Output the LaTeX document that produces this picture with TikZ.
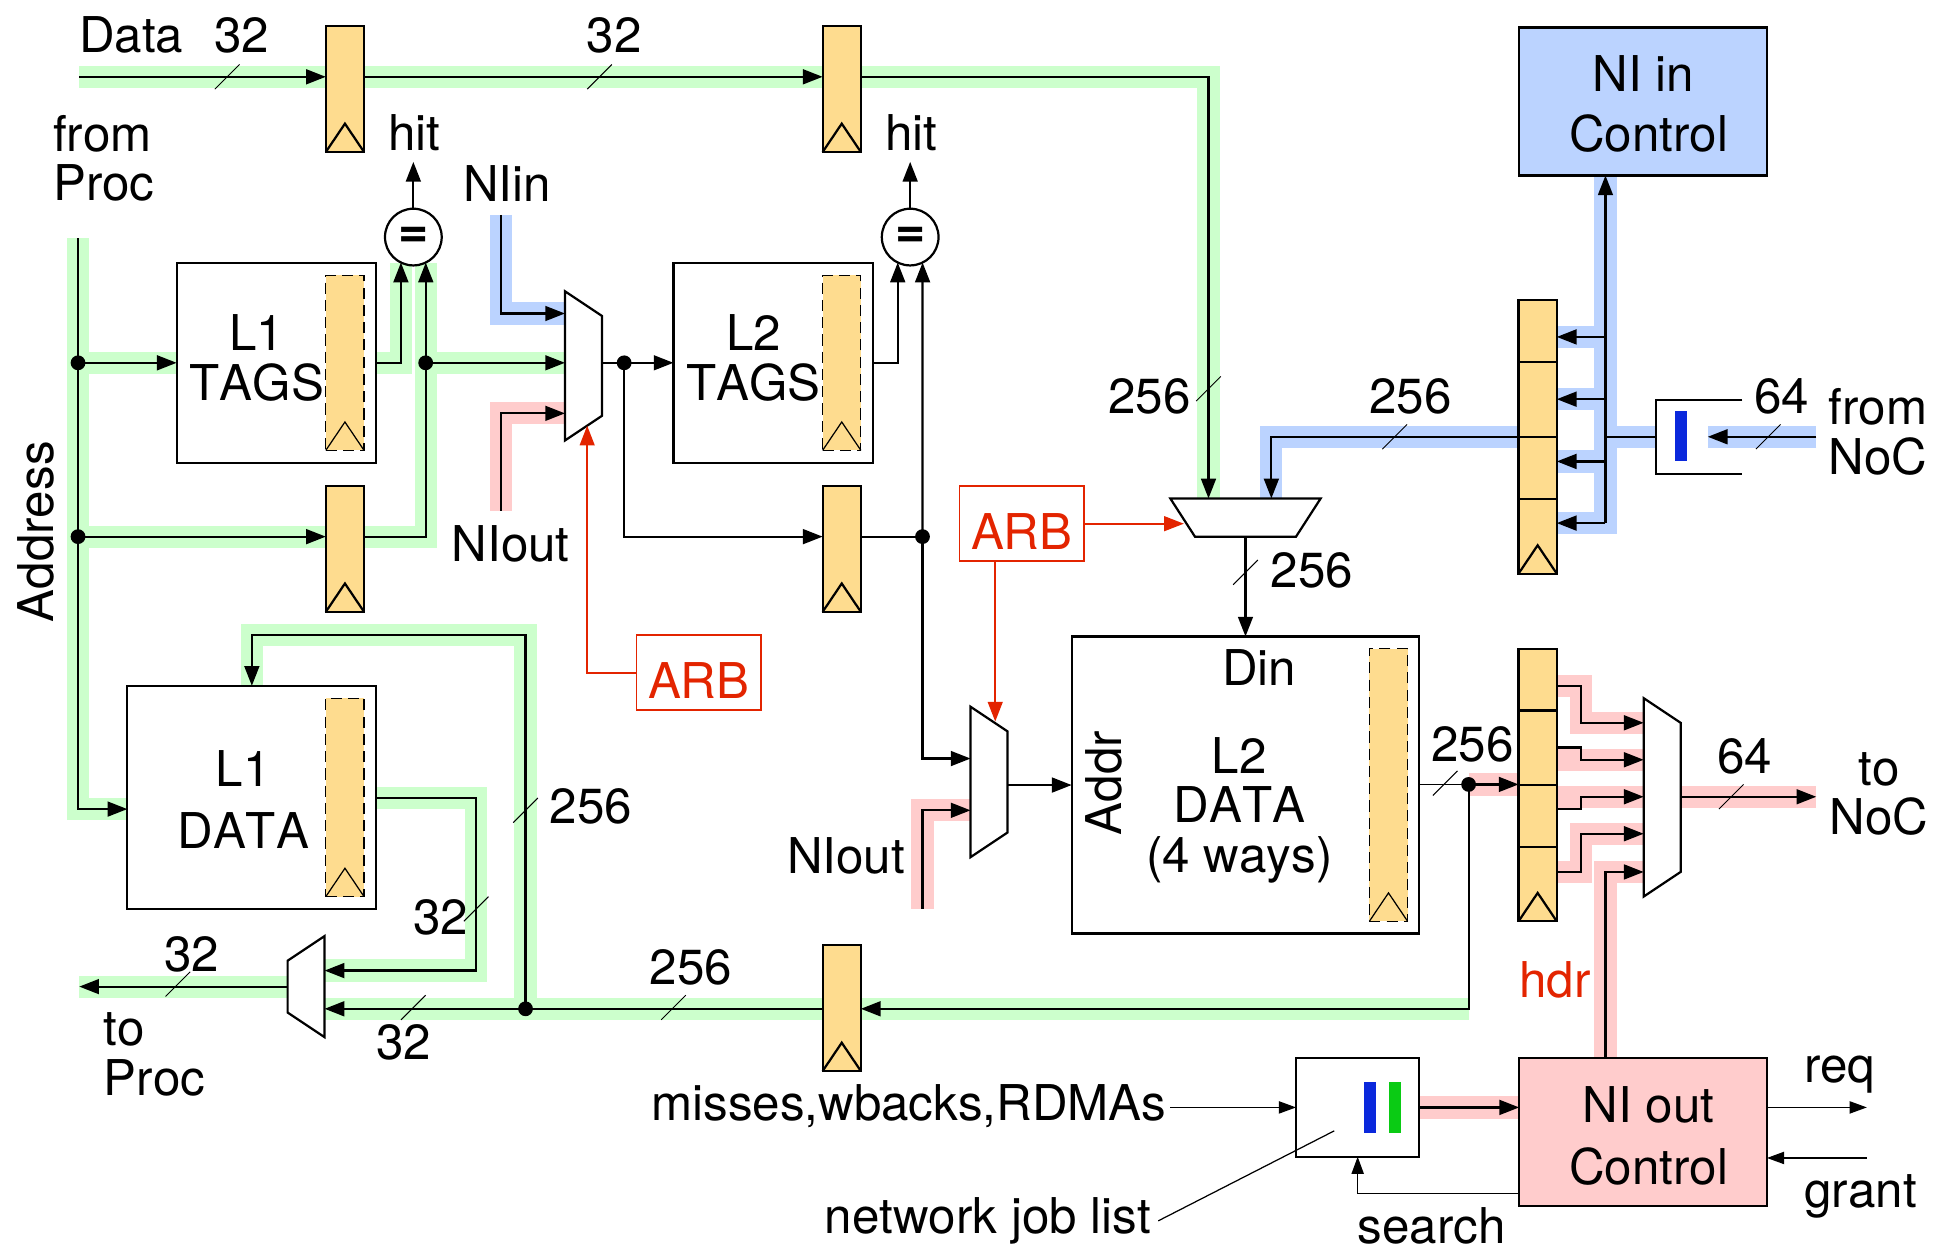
\documentclass[tikz,border=0pt]{standalone}
\usepackage{fontspec}
\setmainfont[Kerning=Off]{TeX Gyre Heros}
\usetikzlibrary{arrows.meta, backgrounds}
\definecolor{hlgreen}{HTML}{CCFFCC}
\definecolor{hlblue}{HTML}{BBD3FF}
\definecolor{hlpink}{HTML}{FFCCCC}
\definecolor{regfill}{HTML}{FEDC8F}
\definecolor{arbred}{HTML}{E32400}
\definecolor{barblue}{HTML}{0A28DC}
\definecolor{bargreen}{HTML}{0ACB14}
\tikzset{
  wire/.style={line width=1.8pt},
  thinwire/.style={line width=1pt,>={Stealth[inset=0pt,length=14pt,width=10pt]}},
  redwire/.style={line width=1.6pt,draw=arbred},
  tickline/.style={line width=.8pt},
  hlg/.style={line width=18pt,draw=hlgreen},
  hlb/.style={line width=18pt,draw=hlblue},
  hlp/.style={line width=18pt,draw=hlpink},
  ffreg/.style={draw,wire,fill=regfill,minimum width=31pt},
  ffdash/.style={draw,line width=1pt,dash pattern=on 9pt off 5pt,fill=regfill,minimum width=31pt},
  blk/.style={draw,wire},
  arbbox/.style={draw=arbred,line width=1.6pt,text=arbred,minimum width=101pt,minimum height=61pt},
  cmp/.style={draw,wire,circle,minimum size=46pt,fill=white,font=\fontsize{42}{42}\selectfont\bfseries},
  muxbox/.style={minimum width=30pt},
  lbl/.style={anchor=base}
}
\begin{document}
\begin{tikzpicture}[x=1pt,y=-1pt,>={Stealth[inset=0pt,length=16pt,width=12pt]},font=\fontsize{40}{40}\selectfont,every node/.append style={inner sep=0pt,outer sep=0pt}]
\useasboundingbox(-.3,-.3)rectangle(1567.7,1009.7);

\node[blk,minimum width=162pt,minimum height=162pt](ltags)at(224,294){};
\node[blk,minimum width=162pt,minimum height=162pt](ltwo)at(627,294){};
\node[blk,minimum width=202pt,minimum height=181pt](ldata)at(204,646.5){};
\node[blk,minimum width=282pt,minimum height=241pt](ldtwo)at(1010,636.5){};
\node[ffdash,minimum height=142pt](ltagsreg)at(279.5,294){};
\node[ffdash,minimum height=142pt](ltworeg)at(682.5,294){};
\node[ffdash,minimum height=161pt](ldatareg)at(279.5,646.5){};
\node[ffdash,minimum height=221pt](ldtworeg)at(1126,636.5){};
\node[ffreg,minimum height=102pt](dreg)at(279.5,72){};
\node[ffreg,minimum height=102pt](dregb)at(682.5,72){};
\node[ffreg,minimum height=102pt](areg)at(279.5,445){};
\node[ffreg,minimum height=102pt](aregb)at(682.5,445){};
\node[ffreg,minimum height=102pt](ldreg)at(682.5,817.5){};
\node[ffreg,minimum height=222pt](stackin)at(1247,354){};
\node[ffreg,minimum height=221pt](stackout)at(1247,636.5){};
\node[blk,fill=hlblue,minimum width=201pt,minimum height=120pt](niin)at(1332.5,82){};
\node[blk,fill=hlpink,minimum width=201pt,minimum height=120pt](niout)at(1332.5,918){};
\node[blk,minimum width=100pt,minimum height=80pt](jobs)at(1101,898){};
\node[fill=barblue,minimum width=10pt,minimum height=41pt](jobblue)at(1111,898){};
\node[fill=bargreen,minimum width=10pt,minimum height=41pt](jobgreen)at(1131,898){};
\node(fnbox)[minimum width=70pt,minimum height=60pt]at(1378,354){};
\node[fill=barblue,minimum width=10pt,minimum height=41pt](fnbar)at(1363,353.5){};
\node[cmp](cmpa)at(335,192){=};
\node[cmp](cmpb)at(738,192){=};
\node[arbbox](arba)at(566.5,545.5){\raisebox{-21pt}[0pt][0pt]{ARB}};
\node[arbbox](arbb)at(828.5,424.5){\raisebox{-21pt}[0pt][0pt]{ARB}};
\node[muxbox,minimum height=121pt](mone)at(473,296.5){};
\node[muxbox,minimum height=122pt](mtwo)at(802,634){};
\node[muxbox,minimum height=161pt](mthree)at(1348,646.5){};
\node[muxbox,minimum height=82pt](mproc)at(248,800){};
\node[minimum width=122pt,minimum height=31pt](mdin)at(1010,419.5){};

\foreach \r in {dreg,dregb,areg,aregb,ldreg,stackin,stackout}
\draw[wire](\r.south west)--([yshift=23pt]\r.south)--(\r.south east);
\foreach \r in {ltagsreg,ltworeg,ldatareg,ldtworeg}
\draw[thinwire](\r.south west)--([yshift=23pt]\r.south)--(\r.south east);
\foreach \y in {293.5,354,404.5}\draw[wire](stackin.west|-0,\y)--(stackin.east|-0,\y);
\foreach \y in {576,636.5,686.5}\draw[wire](stackout.west|-0,\y)--(stackout.east|-0,\y);
\foreach \m in {mone,mtwo,mthree}
\draw[wire](\m.north west)--([yshift=-20pt]\m.north east)--([yshift=20pt]\m.south east)--(\m.south west)--cycle;
\draw[wire](mproc.north east)--([yshift=-20pt]mproc.north west)--([yshift=20pt]mproc.south west)--(mproc.south east)--cycle;
\draw[wire](mdin.north west)--(mdin.north east)--([xshift=-20pt]mdin.south east)--([xshift=20pt]mdin.south west)--cycle;
\draw[wire](fnbox.north east)--(fnbox.north west)--(fnbox.south west)--(fnbox.south east);

\coordinate(din)at(64,62);
\coordinate(dinb)at(980,404);
\coordinate(adrtop)at(63,193);
\coordinate(adra)at(63,294);
\coordinate(adrb)at(63,435);
\coordinate(adrc)at(63,656);
\coordinate(cmpin)at(345,294);
\coordinate(nia)at(406,174);
\coordinate(nib)at(406,254);
\coordinate(noa)at(406,414);
\coordinate(nob)at(406,335);
\coordinate(tagout)at(506,294);
\coordinate(tagreg)at(506,435);
\coordinate(addrin)at(748,435);
\coordinate(addrb)at(748,615);
\coordinate(nooa)at(748,737);
\coordinate(noob)at(748,657);
\coordinate(nidin)at(1031,404);
\coordinate(busin)at(1302,424);
\coordinate(fnoc)at(1473,354);
\coordinate(fnocb)at(1385,354);
\coordinate(lout)at(1191,636);
\coordinate(rback)at(1191,818);
\coordinate(rsplit)at(426,818);
\coordinate(rtop)at(426,515);
\coordinate(ldin)at(204,515);
\coordinate(ldout)at(386,647);
\coordinate(ldoutb)at(386,787);
\coordinate(toproc)at(64,800);
\coordinate(tonoc)at(1473,646);
\coordinate(hdrb)at(1302,707);
\coordinate(hdra)at(1302,858);
\coordinate(arbtipa)at(476,345);
\coordinate(arbtipb)at(807,585);
\coordinate(arbtipc)at(960,424.5);
\coordinate(hita)at(335,131);
\coordinate(hitb)at(738,131);
\coordinate(srch)at(1232,968);
\coordinate(reqb)at(1514,898);
\coordinate(grantb)at(1514,939);
\coordinate(jobptr)at(1082,917);

\begin{scope}[on background layer]
\draw[hlg](din)-|(dinb);
\draw[hlg](adrtop)|-(adrc-|ldata.west);
\draw[hlg](adra)--(ltags.west);
\draw[hlg](adrb)--(adrb-|areg.west);
\draw[hlg](ltags.east)-|(cmpa.244);
\draw[hlg](areg.east|-adrb)-|(cmpa.296);
\draw[hlg](cmpin)--(cmpin-|mone.west);
\draw[hlg](rback)--(rback-|mproc.east);
\draw[hlg](rsplit)|-(ldin)--(ldata.north);
\draw[hlg](ldata.east|-ldout)-|(ldoutb)--(ldoutb-|mproc.east);
\draw[hlg](mproc.west)--(toproc);
\draw[hlb](nia)|-(nib-|mone.west);
\draw[hlb](stackin.west)-|(nidin);
\draw[hlb](busin)--(busin|-niin.south);
\foreach \y in {273,323.5,374,424}\draw[hlb](stackin.east|-0,\y)--(1311,\y);
\draw[hlb](1311,354)--(fnbox.west);
\draw[hlb](fnoc)--(fnocb);
\draw[hlp](noa)|-(nob-|mone.west);
\draw[hlp](nooa)|-(noob-|mtwo.west);
\draw[hlp](lout)--(lout-|stackout.west);
\draw[hlp](stackout.east|-0,556)--(1282,556)--(1282,586)--(mthree.west|-0,586);
\draw[hlp](stackout.east|-0,616)--(mthree.west|-0,616);
\draw[hlp](stackout.east|-0,646)--(mthree.west|-0,646);
\draw[hlp](stackout.east|-0,707)--(1282,707)--(1282,676)--(mthree.west|-0,676);
\draw[hlp](hdra)|-(hdrb-|mthree.west);
\draw[hlp](mthree.east|-tonoc)--(tonoc);
\draw[hlp](jobs.east)--(niout.west|-jobs.east);
\end{scope}

\draw[wire,->](din)--(din-|dreg.west);
\draw[wire,->](din-|dreg.east)--(din-|dregb.west);
\draw[wire,->](din-|dregb.east)-|(dinb);
\draw[wire,->](adrtop)|-(adrc-|ldata.west);
\draw[wire,->](adra)--(ltags.west);
\draw[wire,->](adrb)--(adrb-|areg.west);
\draw[wire,->](ltags.east)-|(cmpa.244);
\draw[wire,->](areg.east|-adrb)-|(cmpa.296);
\draw[wire,->](cmpin)--(cmpin-|mone.west);
\draw[wire,->](cmpa.north)--(hita);
\draw[wire,->](cmpb.north)--(hitb);
\draw[wire,->](nia)|-(nib-|mone.west);
\draw[wire,->](noa)|-(nob-|mone.west);
\draw[wire](mone.east|-tagout)--(tagout);
\draw[wire,->](tagout)--(ltwo.west);
\draw[wire,->](tagout)|-(tagreg-|aregb.west);
\draw[wire](aregb.east|-addrin)--(addrin);
\draw[wire,->](ltwo.east)-|(cmpb.244);
\draw[wire,->](addrin)--(cmpb.296);
\draw[wire,->](addrin)|-(addrb-|mtwo.west);
\draw[wire,->](nooa)|-(noob-|mtwo.west);
\draw[wire,->](mtwo.east|-ldtwo.west)--(ldtwo.west);
\draw[wire,->](mdin.south)--(ldtwo.north);
\draw[wire,->](stackin.west)-|(nidin);
\draw[wire,->](busin)--(busin|-niin.south);
\foreach \y in {273,323.5,374,424}\draw[wire,->](busin|-0,\y)--(stackin.east|-0,\y);
\draw[wire](fnbox.west)--(busin|-fnbox.west);
\draw[wire,->](fnoc)--(fnocb);
\draw[thinwire](ldtwo.east|-lout)--(lout);
\draw[wire,->](lout)--(lout-|stackout.west);
\draw[wire,->](lout)|-(rback-|ldreg.east);
\draw[wire,->](rback-|ldreg.west)--(rback-|mproc.east);
\draw[wire,->](rsplit)|-(ldin)--(ldata.north);
\draw[wire,->](ldata.east|-ldout)-|(ldoutb)--(ldoutb-|mproc.east);
\draw[wire,->](mproc.west)--(toproc);
\draw[wire,->](stackout.east|-0,556)--(1282,556)--(1282,586)--(mthree.west|-0,586);
\draw[wire,->](stackout.east|-0,606)--(1282,606)--(1282,616)--(mthree.west|-0,616);
\draw[wire,->](stackout.east|-0,656)--(1282,656)--(1282,646)--(mthree.west|-0,646);
\draw[wire,->](stackout.east|-0,707)--(1282,707)--(1282,676)--(mthree.west|-0,676);
\draw[wire,->](hdra)|-(hdrb-|mthree.west);
\draw[wire,->](mthree.east|-tonoc)--(tonoc);
\draw[wire,->](jobs.east)--(niout.west|-jobs.east);
\draw[thinwire,->](srch)-|(jobs.south);
\draw[thinwire,->](niout.east|-reqb)--(reqb);
\draw[thinwire,->](grantb)--(niout.east|-grantb);

\draw[redwire,arbred,->](arba.west)-|(arbtipa);
\draw[redwire,arbred,->](arbb.south-|arbtipb)--(arbtipb);
\draw[redwire,arbred,->](arbb.east)--(arbtipc);

\foreach \d in {adra,adrb,cmpin,tagout,addrin,rsplit,lout}\fill(\d)circle(6pt);
\foreach \a/\b in {184/62,486/62,980/315,1131/354,1010/464,426/657,386/737,335/817,546/817,144/798,1172/635,1404/646,1434/354}
\draw[tickline](\a-10,\b+10)--(\a+10,\b-10);

\node[lbl,anchor=base west](datatxt)at(64,42){Data};
\node[lbl](wa)at(196,42){32};
\node[lbl](wb)at(498,42){32};
\node[align=left](fromproc)at(84,128){from\\Proc};
\node[lbl](hittxta)at(336,122){hit};
\node[lbl](hittxtb)at(739,122){hit};
\node[lbl](nilin)at(411,163){NIin};
\node[lbl](nilout)at(414,455){NIout};
\node[rotate=90](adrtxt)at(29,431){Address};
\node[align=center](ltagtxt)at(208,290){L1\\TAGS};
\node[align=center](ltwotxt)at(611,290){L2\\TAGS};
\node[align=center](ldatatxt)at(197,648){L1\\[10pt]DATA};
\node[align=center](niintxt)at(1337,84){NI in\hspace*{8pt}\\[9pt]Control};
\node[align=center](niouttxt)at(1337,921){NI out\\[10pt]Control};
\node[lbl](din256)at(932,335){256};
\node[lbl](nin256)at(1144,335){256};
\node[lbl](noc64)at(1445,335){64};
\node[align=center](fromnoc)at(1523,350){from\\NoC};
\node[lbl](ld256)at(1064,476){256};
\node[lbl](dintxt)at(1021,556){Din};
\node[rotate=90](addrtxt)at(895,635){Addr};
\node[align=center](ldtwotxt)at(1005,657){L2\\DATA\\(4 ways)};
\node[lbl](nilouttwo)at(686,708){NIout};
\node[lbl](out256)at(1194,617){256};
\node[lbl](out64)at(1415,627){64};
\node[align=center](tonoctxt)at(1524,644){to\\NoC};
\node[lbl,text=arbred](hdrtxt)at(1261,809){hdr};
\node[lbl](l256)at(479,668){256};
\node[lbl](w32)at(357,758){32};
\node[lbl](p32)at(155,788){32};
\node[lbl](q32)at(327,859){32};
\node[lbl](b256)at(560,798){256};
\node[align=left](toproctxt)at(125,855){to\\Proc};
\node[lbl](misstxt)at(737,909){misses,wbacks,RDMAs};
\node[lbl](jobtxt)at(801,1000){network job list};
\node[lbl](srchtxt)at(1161,1008){search};
\node[lbl](reqtxt)at(1492,878){req};
\node[lbl](granttxt)at(1509,979){grant};
\draw[thinwire,->]([xshift=3pt]misstxt.east|-jobs.west)--(jobs.west);
\draw[thinwire]([xshift=6pt]jobtxt.east|-0,990)--(jobptr);
\end{tikzpicture}
\end{document}
